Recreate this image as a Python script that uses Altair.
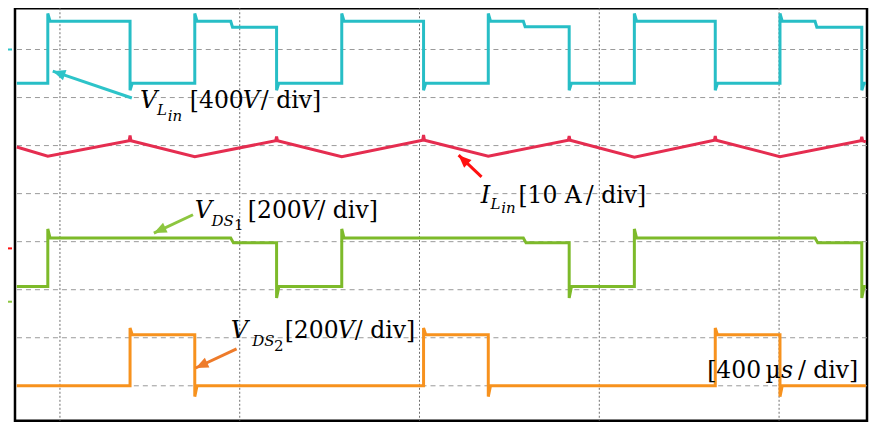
import math
import altair as alt
import pandas as pd

# ---------------- data (time in µs, levels in physical units) ----------------
vlin_t = [4, 73, 73, 78, 256, 256, 261, 400, 400, 405, 480, 484, 582, 582, 587,
          727, 727, 732, 909, 909, 914, 1053, 1053, 1058, 1131, 1135, 1233, 1233, 1238,
          1378, 1378, 1383, 1558, 1558, 1563, 1702, 1702, 1707, 1780, 1784, 1884, 1884, 1889, 1893]
vlin_v = [-280, -280, 300, 235, 235, -340, -280, -280, 300, 235, 235, 186, 186, -340, -280,
          -280, 300, 235, 235, -340, -280, -280, 300, 235, 235, 190, 190, -340, -280,
          -280, 300, 235, 235, -340, -280, -280, 300, 235, 235, 186, 186, -340, -280, -280]

ilin_t = [4, 73, 254, 256, 258, 400, 580, 582, 584, 727, 907, 909, 911, 1053,
          1231, 1233, 1235, 1378, 1556, 1558, 1560, 1702, 1882, 1884, 1886, 1893]
ilin_a = [21.1, 19.2, 22.4, 23.5, 22.4, 19.1, 22.4, 23.3, 22.4, 19.1, 22.5, 23.6, 22.5, 19.2,
          22.5, 23.4, 22.5, 19.0, 22.5, 23.4, 22.5, 19.1, 22.4, 23.2, 22.4, 22.2]

vds1_t = [4, 73, 73, 78, 480, 486, 582, 582, 587, 727, 727, 732, 1131, 1137, 1233, 1233, 1238,
          1378, 1378, 1383, 1780, 1786, 1884, 1884, 1889, 1893]
vds1_v = [63, 63, 303, 265, 265, 245, 245, 16, 63, 63, 303, 265, 265, 245, 245, 16, 63,
          63, 303, 265, 265, 245, 245, 16, 63, 63]

vds2_t = [4, 256, 256, 261, 400, 400, 405, 909, 909, 914, 1053, 1053, 1058,
          1558, 1558, 1563, 1702, 1702, 1707, 1893]
vds2_v = [0, 0, 241, 212, 212, -45, 0, 0, 241, 212, 212, -45, 0,
          0, 241, 212, 212, -45, 0, 0]

channels = ["VLin", "ILin", "VDS1", "VDS2"]
channel_offset_div = [7.0, 2.86, 1.75, 0.0]
channel_units_per_div = [400, 10, 200, 200]

grid_t = [100, 500, 900, 1300, 1700]
grid_div = [0, 1, 2, 3, 4, 5, 6, 7, 8]

# ---------------- geometry ----------------
T_MAX = 1895.6
DIV_MIN, DIV_MAX = -0.728, 7.859
W, H = 853, 413
PX_T = W / T_MAX
PX_D = H / (DIV_MAX - DIV_MIN)

xs = alt.Scale(domain=[0, T_MAX], nice=False, zero=False)
ys = alt.Scale(domain=[DIV_MIN, DIV_MAX], nice=False, zero=False)

# ---------------- tables ----------------
rows = []
for name, ts, vs, off, upd in zip(channels, [vlin_t, ilin_t, vds1_t, vds2_t],
                                  [vlin_v, ilin_a, vds1_v, vds2_v],
                                  channel_offset_div, channel_units_per_div):
    for i, (t, v) in enumerate(zip(ts, vs)):
        rows.append({"ch": name, "i": i, "t": t, "d": off + v / upd})
traces = pd.DataFrame(rows)

markers = pd.DataFrame({"ch": ["VLin mk", "ILin mk", "VDS1 mk"],
                        "d": channel_offset_div[:3]})

arrow_names = ["VLin mk", "ILin mk", "VDS1 mk", "VDS2 mk"]
arrow_tail_t = [260, 1038, 396, 493]
arrow_tail_d = [5.99, 4.35, 3.56, 0.77]
arrow_tip_t = [84, 987, 309, 402]
arrow_tip_d = [6.55, 4.80, 3.18, 0.37]
arr = pd.DataFrame({"ch": arrow_names, "t": arrow_tail_t, "d": arrow_tail_d,
                    "t2": arrow_tip_t, "d2": arrow_tip_d})
arr["ang"] = [
    (math.degrees(math.atan2((b - a) * PX_T, (d2 - d1) * PX_D)) + 360) % 360
    for a, b, d1, d2 in zip(arr.t, arr.t2, arr.d, arr.d2)
]

# annotation pieces: text, t, d, font size, italic
pieces = [
    ("V", 278, 5.78, 24, True), ("L", 316, 5.63, 15, True), ("in", 340, 5.52, 15, True),
    ("[400", 389, 5.78, 23.5, False), ("V", 507, 5.78, 23.5, True), ("/ div]", 547, 5.78, 23.5, False),

    ("I", 1036, 3.80, 24, True), ("L", 1058, 3.68, 15, True), ("in", 1082, 3.59, 15, True),
    ("[10 A", 1120, 3.80, 23.5, False), ("/ div]", 1270, 3.80, 23.5, False),

    ("V", 400, 3.49, 24, True), ("DS", 437, 3.33, 15, True), ("1", 487, 3.24, 15, False),
    ("[200", 518, 3.49, 23.5, False), ("V", 636, 3.49, 23.5, True), ("/ div]", 673, 3.49, 23.5, False),

    ("V", 480, 1.00, 24, True), ("DS", 528, 0.83, 15, True), ("2", 576, 0.73, 15, False),
    ("[200", 600, 1.00, 23.5, False), ("V", 718, 1.00, 23.5, True), ("/ div]", 756, 1.00, 23.5, False),

    ("[400", 1540, 0.166, 23.5, False), ("µ", 1670, 0.166, 23.5, False),
    ("s", 1704, 0.166, 23.5, True), ("/ div]", 1742, 0.166, 23.5, False),
]
txt = pd.DataFrame(pieces, columns=["s", "t", "d", "fs", "it"])

color_scale = alt.Scale(
    domain=["VLin", "ILin", "VDS1", "VDS2", "VLin mk", "ILin mk", "VDS1 mk", "VDS2 mk"],
    range=["#27BEC6", "#E52D50", "#7DBA2A", "#F7921E", "#2DC4C9", "#FF1010", "#8DC63F", "#EE7B2A"],
)

# ---------------- layers ----------------
vgrid = alt.Chart(pd.DataFrame({"t": grid_t})).mark_rule(
    color="#6E6E6E", strokeDash=[2, 2], strokeWidth=1
).encode(x=alt.X("t:Q", scale=xs, axis=None))

hgrid = alt.Chart(pd.DataFrame({"d": grid_div})).mark_rule(
    color="#9A9A9A", strokeDash=[5, 4], strokeWidth=1
).encode(y=alt.Y("d:Q", scale=ys, axis=None))

lines = alt.Chart(traces).mark_line(strokeWidth=3, clip=True).encode(
    x=alt.X("t:Q", scale=xs, axis=None),
    y=alt.Y("d:Q", scale=ys, axis=None),
    color=alt.Color("ch:N", scale=color_scale, legend=None),
    order=alt.Order("i:Q"),
)

mk = alt.Chart(markers).mark_rule(strokeWidth=2).encode(
    x=alt.value(-13), x2=alt.value(-3),
    y=alt.Y("d:Q", scale=ys, axis=None),
    color=alt.Color("ch:N", scale=color_scale, legend=None),
)

arrow_line = alt.Chart(arr).mark_rule(strokeWidth=3).encode(
    x=alt.X("t:Q", scale=xs, axis=None), y=alt.Y("d:Q", scale=ys, axis=None),
    x2="t2:Q", y2="d2:Q",
    color=alt.Color("ch:N", scale=color_scale, legend=None),
)
arrow_head = alt.Chart(arr).mark_point(
    shape="M0,0L0.85,2L-0.85,2Z", filled=True, size=160, opacity=1, strokeWidth=0
).encode(
    x=alt.X("t2:Q", scale=xs, axis=None), y=alt.Y("d2:Q", scale=ys, axis=None),
    angle=alt.Angle("ang:Q", scale=None),
    color=alt.Color("ch:N", scale=color_scale, legend=None),
)

text_normal = alt.Chart(txt[~txt.it]).mark_text(
    font="DejaVu Serif", align="left", baseline="alphabetic", color="black"
).encode(
    x=alt.X("t:Q", scale=xs, axis=None), y=alt.Y("d:Q", scale=ys, axis=None),
    text="s:N", size=alt.Size("fs:Q", scale=None),
)
text_italic = alt.Chart(txt[txt.it]).mark_text(
    font="DejaVu Serif", fontStyle="italic", align="left", baseline="alphabetic", color="black"
).encode(
    x=alt.X("t:Q", scale=xs, axis=None), y=alt.Y("d:Q", scale=ys, axis=None),
    text="s:N", size=alt.Size("fs:Q", scale=None),
)

chart = alt.layer(
    vgrid, hgrid, lines, mk, arrow_line, arrow_head, text_normal, text_italic
).properties(
    width=W, height=H,
    autosize=alt.AutoSizeParams(type="none"),
    padding={"left": 7, "top": 0, "right": 2, "bottom": 2},
    background="white",
).configure_view(stroke="black", strokeWidth=2.5)

chart.save("out.html", embed_options={"renderer": "svg", "actions": False})
